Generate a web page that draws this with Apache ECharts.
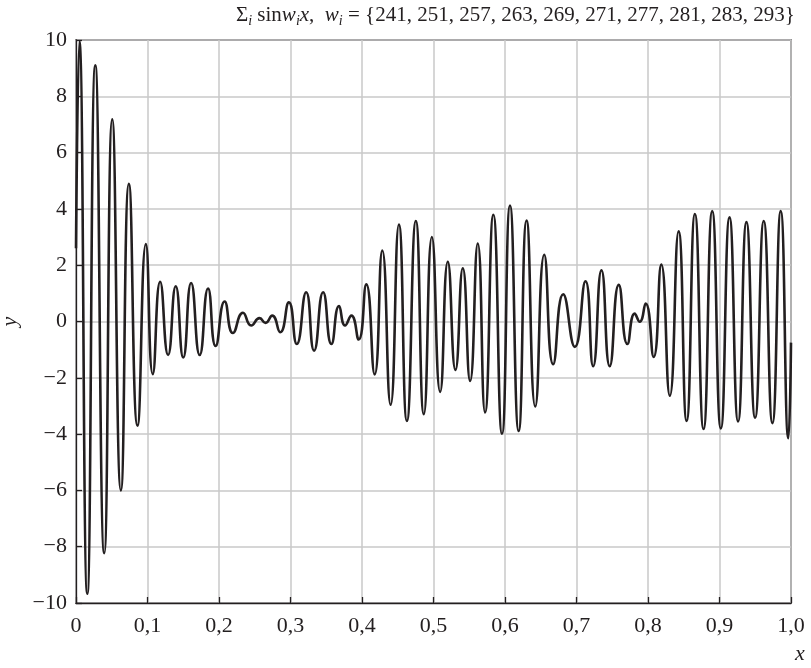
<!DOCTYPE html>
<html>
<head>
<meta charset="utf-8">
<title>sum of sines</title>
<script src="https://cdn.jsdelivr.net/npm/echarts@6/dist/echarts.min.js"></script>
<style>
  html, body { margin: 0; padding: 0; background: #fff; }
  #chart { width: 811px; height: 668px; }
</style>
</head>
<body>
<div id="chart"></div>
<script>
// extrema (x, y)
var xPts = [
  0, 0.0047, 0.0158, 0.027, 0.0395, 0.0507, 0.0628, 0.074, 0.086, 0.0977,
  0.1074, 0.1177, 0.1288, 0.1395, 0.150, 0.161, 0.173, 0.1847, 0.1953, 0.2079,
  0.2195, 0.2335, 0.245, 0.2567, 0.265, 0.2744, 0.2856, 0.2977, 0.3088, 0.3219,
  0.333, 0.3456, 0.3572, 0.3679, 0.3763, 0.3851, 0.3953, 0.406, 0.4177, 0.4284,
  0.44, 0.4516, 0.4628, 0.4753, 0.4865, 0.4977, 0.5093, 0.52, 0.5307, 0.541,
  0.5512, 0.5619, 0.5721, 0.5837, 0.5958, 0.607, 0.6191, 0.6302, 0.6423, 0.6549,
  0.6674, 0.6814, 0.6977, 0.7126, 0.7233, 0.7349, 0.7465, 0.7591, 0.7712, 0.7814,
  0.7884, 0.7967, 0.8079, 0.8186, 0.8305, 0.8428, 0.854, 0.8656, 0.8777, 0.8898,
  0.9019, 0.914, 0.926, 0.9377, 0.9498, 0.9619, 0.974, 0.9856, 0.9963, 1.0
];
var yPts = [
  2.6, 9.95, -9.67, 9.1, -8.23, 7.18, -6.0, 4.89, -3.7, 2.75,
  -1.87, 1.41, -1.19, 1.25, -1.28, 1.37, -1.19, 1.17, -0.87, 0.71,
  -0.41, 0.31, -0.14, 0.12, -0.05, 0.21, -0.38, 0.68, -0.80, 1.04,
  -1.04, 1.04, -0.80, 0.55, -0.14, 0.21, -0.64, 1.32, -1.88, 2.52,
  -2.96, 3.44, -3.53, 3.57, -3.29, 3.0, -2.5, 2.12, -1.72, 1.89,
  -2.11, 2.77, -3.23, 3.79, -3.99, 4.12, -3.89, 3.59, -3.02, 2.37,
  -1.52, 0.97, -0.90, 1.43, -1.59, 1.82, -1.59, 1.30, -0.80, 0.28,
  -0.01, 0.64, -1.26, 2.02, -2.64, 3.2, -3.53, 3.82, -3.82, 3.92,
  -3.80, 3.70, -3.55, 3.53, -3.42, 3.57, -3.61, 3.92, -4.15, -0.75
];
var xTickLabels = ['0', '0,1', '0,2', '0,3', '0,4', '0,5', '0,6', '0,7', '0,8', '0,9', '1,0'];
var yTickLabels = ['\u221210', '\u22128', '\u22126', '\u22124', '\u22122', '0', '2', '4', '6', '8', '10'];
var weights = [241, 251, 257, 263, 269, 271, 277, 281, 283, 293];

var serif = '"Liberation Serif", "DejaVu Serif", serif';
var ink = '#231f20';

var chart = echarts.init(document.getElementById('chart'));
chart.setOption({
  animation: false,
  backgroundColor: '#fff',
  title: {
    left: 231,
    top: -2,
    text: '{n|\u03a3}{s|i}{n| sin}{it|w}{s|i}{it|x}{n|,  }{it|w}{s|i}{n| = }{' + weights.join(', ') + '}',
    textStyle: {
      fontFamily: serif,
      fontSize: 21,
      fontWeight: 'normal',
      color: ink,
      lineHeight: 25,
      rich: {
        n: { fontFamily: serif, fontSize: 21, color: ink, lineHeight: 25 },
        it: { fontFamily: serif, fontSize: 21, fontStyle: 'italic', color: ink, lineHeight: 25 },
        s: { fontFamily: serif, fontSize: 14, fontStyle: 'italic', color: ink, lineHeight: 25, verticalAlign: 'bottom' }
      }
    }
  },
  grid: {
    left: 76,
    right: 20,
    top: 40,
    bottom: 65,
    outerBoundsMode: 'none',
    show: true,
    borderColor: ink,
    borderWidth: 1.3
  },
  xAxis: {
    type: 'value',
    min: 0,
    max: 1,
    interval: 0.1,
    name: 'x',
    nameLocation: 'end',
    nameGap: 4,
    nameTextStyle: {
      fontFamily: serif, fontSize: 22, fontStyle: 'italic', color: ink,
      verticalAlign: 'top', padding: [40, 0, 0, 0]
    },
    axisLine: { show: true, onZero: false, lineStyle: { color: ink, width: 1.3 } },
    axisTick: { show: true, inside: true, length: 6, lineStyle: { color: ink, width: 1.3 } },
    axisLabel: {
      margin: 12,
      fontFamily: serif, fontSize: 22, color: ink,
      formatter: function (v) { return xTickLabels[Math.round(v * 10)]; }
    },
    splitLine: { show: true, lineStyle: { color: '#c8c8c8', width: 1.5 } }
  },
  yAxis: {
    type: 'value',
    min: -10,
    max: 10,
    interval: 2,
    name: 'y',
    nameLocation: 'middle',
    nameRotate: 90,
    nameGap: 53,
    nameTextStyle: { fontFamily: serif, fontSize: 22, fontStyle: 'italic', color: ink },
    axisLine: { show: true, onZero: false, lineStyle: { color: ink, width: 1.3 } },
    axisTick: { show: true, inside: true, length: 6, lineStyle: { color: ink, width: 1.3 } },
    axisLabel: {
      margin: 9,
      fontFamily: serif, fontSize: 22, color: ink,
      formatter: function (v) { return yTickLabels[Math.round((v + 10) / 2)]; }
    },
    splitLine: { show: true, lineStyle: { color: '#c8c8c8', width: 1.5 } }
  },
  series: [{
    type: 'line',
    data: xPts.map(function (x, i) { return [x, yPts[i]]; }),
    showSymbol: false,
    smooth: 0.55,
    lineStyle: { color: ink, width: 2.6 }
  }]
});
</script>
</body>
</html>
